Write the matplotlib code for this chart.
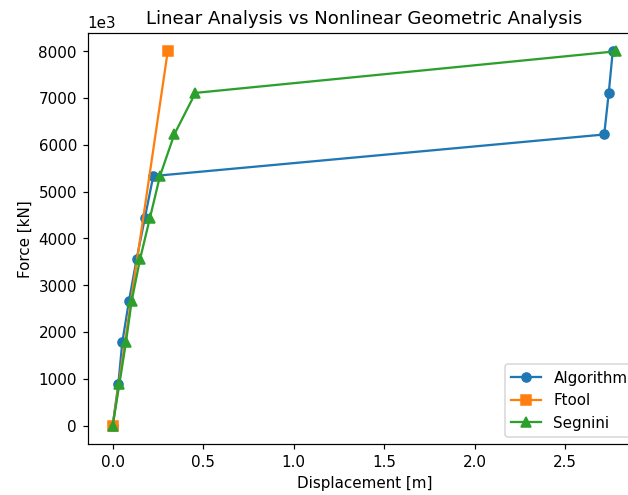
import matplotlib
matplotlib.use("Agg")
import matplotlib.pyplot as plt

# Force levels (N, shown as kN x 1e3 on the axis)
force = [0, 889e3, 1778e3, 2667e3, 3556e3, 4444e3, 5333e3, 6222e3, 7111e3, 8000e3]

# Displacements [m]
disp_algorithm = [0.0, 0.031, 0.053, 0.090, 0.132, 0.178, 0.224, 2.715, 2.740, 2.762]
disp_segnini = [0.0, 0.037, 0.073, 0.105, 0.151, 0.206, 0.261, 0.340, 0.457, 2.780]
disp_ftool = [0.0, 0.304]
force_ftool = [0, 8000e3]

# reference looks rendered at ~1.09x the default scale
DPI = 109
fig = plt.figure(figsize=(628.4 / DPI, 495.4 / DPI), dpi=DPI)
# axes runs past the right edge, as in the reference crop
ax = fig.add_axes([0.1393, 0.1024, 0.881, 0.831])

ax.plot(disp_algorithm, force, marker='o', label='Algorithm')
ax.plot(disp_ftool, force_ftool, marker='s', label='Ftool')
ax.plot(disp_segnini, force, marker='^', label='Segnini')

ax.ticklabel_format(axis='y', style='sci', scilimits=(3, 3))
ax.set_title('Linear Analysis vs Nonlinear Geometric Analysis')
ax.set_xlabel('Displacement [m]')
ax.set_ylabel('Force [kN]')
ax.legend(loc='lower right')

fig.savefig('out.png', dpi=DPI)
